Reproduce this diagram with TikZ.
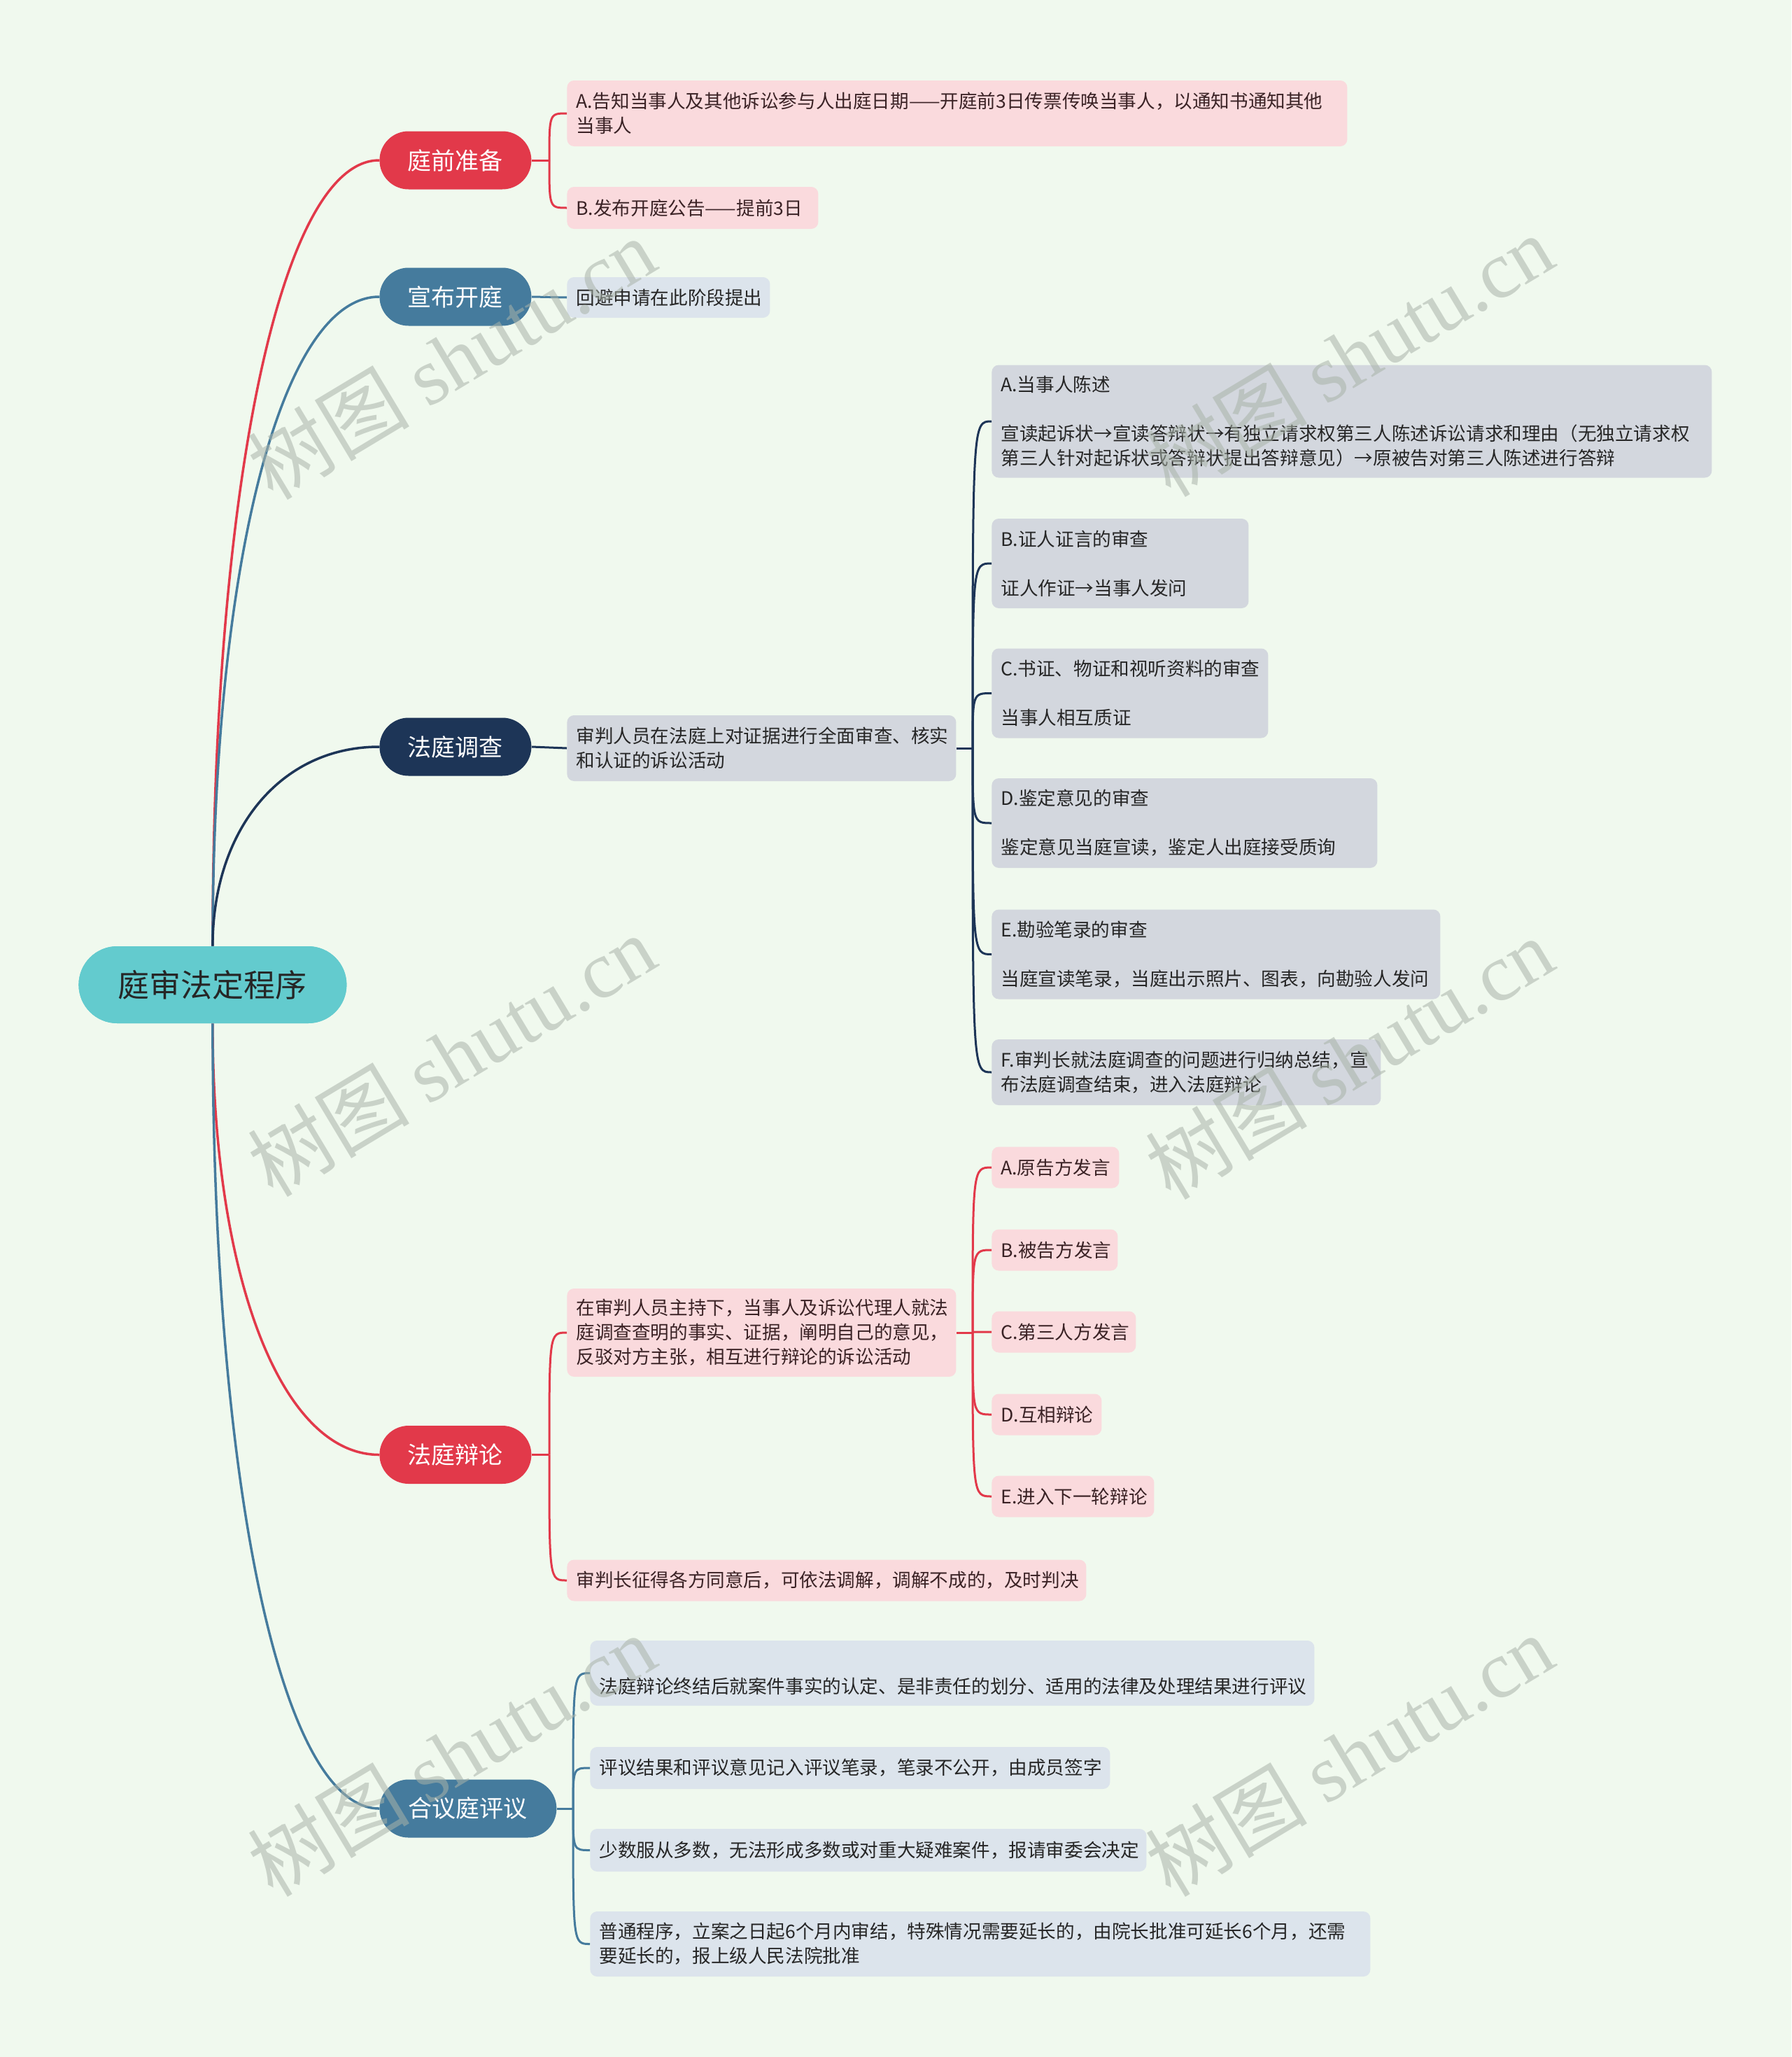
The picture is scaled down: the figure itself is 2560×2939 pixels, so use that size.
\documentclass[tikz,border=0pt]{standalone}
\usepackage{fontspec}
\setmainfont{Noto Sans CJK SC}
\newfontfamily\wmserif{Liberation Serif}
\newfontfamily\wmcjk{Noto Sans CJK SC}
\definecolor{bg}{HTML}{F0F9EE}
\definecolor{rootc}{HTML}{63CBCE}
\definecolor{redc}{HTML}{E2394A}
\definecolor{bluec}{HTML}{457B9D}
\definecolor{navyc}{HTML}{1D3557}
\definecolor{pinkc}{HTML}{FADADD}
\definecolor{grayc}{HTML}{D3D7DE}
\definecolor{lbluec}{HTML}{DCE4EC}
\definecolor{pinktext}{HTML}{3A2225}
\definecolor{leaftext}{HTML}{262626}
\definecolor{wmc}{HTML}{A9B3A9}
\tikzset{
  rootnode/.style={fill=rootc, rounded corners=27.5pt, minimum width=191.5pt, minimum height=55pt,
    inner sep=0pt, anchor=west, text=black!85, font=\fontsize{22.5}{27}\selectfont},
  topic/.style={fill=#1, rounded corners=20.75pt, minimum width=108.5pt, minimum height=41.5pt,
    inner sep=0pt, anchor=west, text=white, font=\fontsize{17}{20}\selectfont},
  leaf/.style={rounded corners=5pt, anchor=west, inner xsep=6.5pt, inner ysep=0pt, align=left,
    font=\fontsize{13.3}{17.5}\selectfont},
  pinkleaf/.style={leaf, fill=pinkc, text=pinktext},
  grayleaf/.style={leaf, fill=grayc, text=leaftext},
  blueleaf/.style={leaf, fill=lbluec, text=leaftext},
  mainbr/.style={draw=#1, line width=1.75pt},
  subbr/.style={draw=#1, line width=1.5pt},
  wmark/.style={rotate=31, text=wmc, opacity=0.55, inner sep=0pt}
}
\begin{document}
\begin{tikzpicture}[x=0.5pt, y=-0.5pt]
\useasboundingbox (0,0) rectangle (2560,2939);
\fill[bg] (0,0) rectangle (2560,2939);

% ---------- nodes ----------
\node[rootnode] (root) at (112,1407) {庭审法定程序};
\node[topic=redc]  (t1) at (542,229)    {庭前准备};
\node[topic=bluec] (t2) at (542,424)    {宣布开庭};
\node[topic=navyc] (t3) at (542,1067)   {法庭调查};
\node[topic=redc]  (t4) at (542,2078.5) {法庭辩论};
\node[topic=bluec, minimum width=126.5pt] (t5) at (542,2584) {合议庭评议};

% 庭前准备
\node[pinkleaf, text width=544.5pt, minimum height=47pt] (a1) at (810,162)
  {A.告知当事人及其他诉讼参与人出庭日期——开庭前3日传票传唤当事人，以通知书通知其他\\当事人};
\node[pinkleaf, text width=166.5pt, minimum height=30pt] (a2) at (810,297)
  {B.发布开庭公告——提前3日};
% 宣布开庭
\node[blueleaf, text width=132pt, minimum height=29pt] (b1) at (810,425)
  {回避申请在此阶段提出};
% 法庭调查
\node[grayleaf, text width=265pt, minimum height=47pt] (c0) at (810,1069)
  {审判人员在法庭上对证据进行全面审查、核实\\和认证的诉讼活动};
\node[grayleaf, text width=501.5pt, minimum height=80.5pt] (c1) at (1417,602)
  {A.当事人陈述\\[17.5pt]宣读起诉状→宣读答辩状→有独立请求权第三人陈述诉讼请求和理由（无独立请求权\\第三人针对起诉状或答辩状提出答辩意见）→原被告对第三人陈述进行答辩};
\node[grayleaf, text width=170.5pt, minimum height=64pt] (c2) at (1417,805)
  {B.证人证言的审查\\[17.5pt]证人作证→当事人发问};
\node[grayleaf, text width=184.5pt, minimum height=64pt] (c3) at (1417,990.5)
  {C.书证、物证和视听资料的审查\\[17.5pt]当事人相互质证};
\node[grayleaf, text width=262.5pt, minimum height=64pt] (c4) at (1417,1176)
  {D.鉴定意见的审查\\[17.5pt]鉴定意见当庭宣读，鉴定人出庭接受质询};
\node[grayleaf, text width=307.5pt, minimum height=64pt] (c5) at (1417,1363.5)
  {E.勘验笔录的审查\\[17.5pt]当庭宣读笔录，当庭出示照片、图表，向勘验人发问};
\node[grayleaf, text width=265pt, minimum height=47pt] (c6) at (1417,1532)
  {F.审判长就法庭调查的问题进行归纳总结，宣\\布法庭调查结束，进入法庭辩论};
% 法庭辩论
\node[pinkleaf, text width=265pt, minimum height=63pt] (d0) at (810,1904)
  {在审判人员主持下，当事人及诉讼代理人就法\\庭调查查明的事实、证据，阐明自己的意见，\\反驳对方主张，相互进行辩论的诉讼活动};
\node[pinkleaf, text width=78pt, minimum height=29.5pt] (d1) at (1417,1668) {A.原告方发言};
\node[pinkleaf, text width=77pt, minimum height=29.5pt] (d2) at (1417,1786) {B.被告方发言};
\node[pinkleaf, text width=90pt, minimum height=29.5pt] (d3) at (1417,1903) {C.第三人方发言};
\node[pinkleaf, text width=65.5pt, minimum height=29.5pt] (d4) at (1417,2021) {D.互相辩论};
\node[pinkleaf, text width=103pt, minimum height=29.5pt] (d5) at (1417,2138) {E.进入下一轮辩论};
\node[pinkleaf, text width=358pt, minimum height=29.5pt] (d6) at (810,2258)
  {审判长征得各方同意后，可依法调解，调解不成的，及时判决};
% 合议庭评议
\node[blueleaf, text width=504.5pt, minimum height=46.5pt] (e1) at (843,2390.5)
  {\strut\\法庭辩论终结后就案件事实的认定、是非责任的划分、适用的法律及处理结果进行评议};
\node[blueleaf, text width=358.5pt, minimum height=30pt] (e2) at (843,2526)
  {评议结果和评议意见记入评议笔录，笔录不公开，由成员签字};
\node[blueleaf, text width=384.5pt, minimum height=30.5pt] (e3) at (843,2643.5)
  {少数服从多数，无法形成多数或对重大疑难案件，报请审委会决定};
\node[blueleaf, text width=544.5pt, minimum height=46.5pt] (e4) at (843,2777.5)
  {普通程序，立案之日起6个月内审结，特殊情况需要延长的，由院长批准可延长6个月，还需\\要延长的，报上级人民法院批准};

% ---------- connectors ----------
\draw[mainbr=redc]  (root.north) .. controls +(0,-651) and +(-142,0) .. (t1.west);
\draw[mainbr=bluec] (root.north) .. controls +(0,-538) and +(-142,0) .. (t2.west);
\draw[mainbr=navyc] (root.north) .. controls +(0,-165) and +(-142,0) .. (t3.west);
\draw[mainbr=redc]  (root.south) .. controls +(0,357) and +(-142,0) .. (t4.west);
\draw[mainbr=bluec] (root.south) .. controls +(0,651) and +(-142,0) .. (t5.west);

% 庭前准备
\coordinate (j1) at (785,229);
\draw[subbr=redc] (t1.east) -- (j1);
\foreach \c in {a1,a2}
  \draw[subbr=redc] (j1) .. controls (j1 |- \c.west) .. (\c.west);
% 宣布开庭
\draw[subbr=bluec] (t2.east) -- (b1.west);
% 法庭调查
\draw[subbr=navyc] (t3.east) -- (c0.west);
\coordinate (jc) at (1390,1069);
\draw[subbr=navyc] (c0.east) -- (jc);
\foreach \c in {c1,c2,c3,c4,c5,c6}
  \draw[subbr=navyc] (jc) .. controls (jc |- \c.west) .. (\c.west);
% 法庭辩论
\coordinate (j4) at (785,2078.5);
\draw[subbr=redc] (t4.east) -- (j4);
\foreach \c in {d0,d6}
  \draw[subbr=redc] (j4) .. controls (j4 |- \c.west) .. (\c.west);
\coordinate (jd) at (1390,1904);
\draw[subbr=redc] (d0.east) -- (jd);
\foreach \c in {d1,d2,d3,d4,d5}
  \draw[subbr=redc] (jd) .. controls (jd |- \c.west) .. (\c.west);
% 合议庭评议
\coordinate (j5) at (819,2584);
\draw[subbr=bluec] (t5.east) -- (j5);
\foreach \c in {e1,e2,e3,e4}
  \draw[subbr=bluec] (j5) .. controls (j5 |- \c.west) .. (\c.west);

% redraw root on top of connector starts
\node[rootnode] (rootb) at (112,1407) {庭审法定程序};

% ---------- watermarks ----------
\foreach \p [count=\i] in {(645,512),(1928,508),(645,1508),(1928,1512),(645,2508),(1928,2508)}
  \node[wmark] (wm\i) at \p {\fontsize{58}{64}\selectfont\wmcjk 树图 \wmserif shutu.cn};
\end{tikzpicture}
\end{document}
